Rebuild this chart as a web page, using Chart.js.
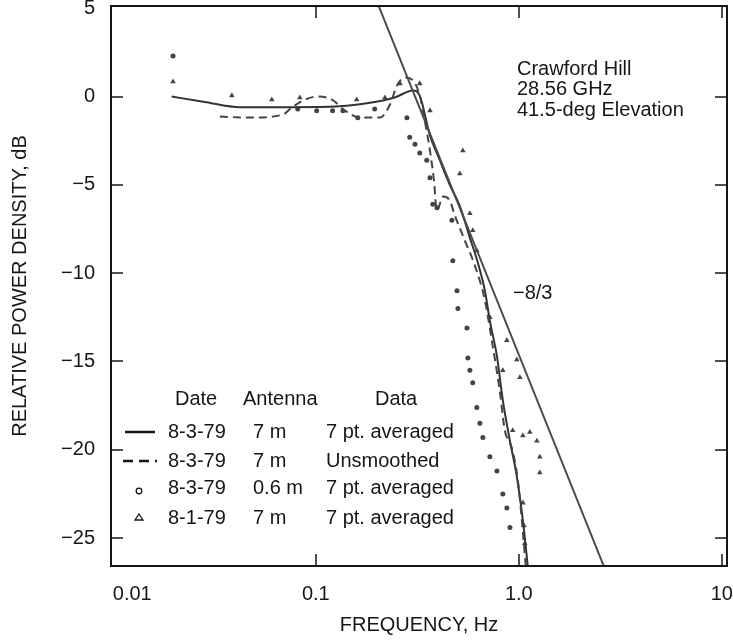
<!DOCTYPE html>
<html>
<head>
<meta charset="utf-8">
<script src="https://cdn.jsdelivr.net/npm/chart.js@4/dist/chart.umd.min.js"></script>
<style>
  html, body { margin: 0; padding: 0; background: #fff; }
  #wrap { width: 733px; height: 642px; }
</style>
</head>
<body>
<div id="wrap"><canvas id="spectrum"></canvas></div>
<script>
// values: frequency in Hz, level in dB

// 8-3-79, 7 m, 7 pt. averaged (solid)
const freqSolid = [0.0195, 0.0284, 0.0422, 0.0745, 0.131, 0.185, 0.245, 0.301, 0.325, 0.365, 0.408, 0.457,
  0.512, 0.574, 0.628, 0.681, 0.720, 0.780, 0.834, 0.904, 0.977, 1.047, 1.107];
const dbSolid = [0, -0.3, -0.6, -0.6, -0.55, -0.35, -0.05, 0.35, 0.05, -2.2, -3.6, -5.0,
  -6.2, -8.0, -9.4, -11.0, -12.7, -14.7, -17.2, -19.5, -21.5, -24.0, -26.6];

// 8-3-79, 7 m, unsmoothed (dashed)
const freqDashed = [0.0337, 0.0473, 0.0687, 0.0762, 0.0863, 0.101, 0.120, 0.139, 0.165, 0.207, 0.232, 0.251,
  0.274, 0.301, 0.325, 0.344, 0.365, 0.381, 0.395, 0.423, 0.457, 0.484, 0.542, 0.607, 0.681, 0.736,
  0.805, 0.853, 0.925, 0.989, 1.035, 1.082];
const dbDashed = [-1.13, -1.19, -1.02, -0.62, -0.23, 0, -0.17, -0.79, -1.19, -1.19, -0.45, 0.62,
  1.08, 0.91, 0.06, -1.36, -3.06, -4.64, -6.45, -5.66, -5.89, -6.73, -8.15, -9.56, -11.55, -13.81,
  -16.64, -18.9, -19.92, -21.73, -24.0, -26.6];

// 8-3-79, 0.6 m, 7 pt. averaged (circles)
const freqCircle = [0.0198, 0.0815, 0.101, 0.121, 0.136, 0.161, 0.195, 0.281, 0.290, 0.308, 0.325, 0.352,
  0.365, 0.377, 0.395, 0.468, 0.473, 0.496, 0.501, 0.555, 0.561, 0.574, 0.593, 0.621, 0.643, 0.665,
  0.720, 0.780, 0.834, 0.873, 0.904];
const dbCircle = [2.3, -0.7, -0.8, -0.8, -0.8, -1.2, -0.7, -1.2, -2.3, -2.7, -3.2, -3.6,
  -4.6, -6.1, -6.3, -7.0, -9.3, -11.0, -12.0, -13.1, -14.8, -15.5, -16.2, -17.6, -18.5, -19.3,
  -20.4, -21.2, -22.5, -23.3, -24.4];

// 8-1-79, 7 m, 7 pt. averaged (triangles)
const freqTri = [0.0198, 0.0386, 0.0607, 0.0834, 0.159, 0.219, 0.260, 0.325, 0.365, 0.512, 0.530, 0.574,
  0.593, 0.621, 0.720, 0.834, 0.873, 0.977, 1.012, 0.933, 1.047, 1.133, 1.227, 1.268, 1.268,
  1.047, 1.060, 1.070];
const dbTri = [0.85, 0.06, -0.17, -0.06, -0.17, -0.06, 0.74, 0.74, -0.79, -4.36, -3.06, -6.62,
  -7.58, -8.72, -12.5, -15.5, -13.8, -14.9, -15.9, -18.9, -19.2, -19.0, -19.5, -20.4, -21.3,
  -23.0, -24.3, -25.3];

// -8/3 reference line, ends at the frame
const freqSlope = [0.204, 2.62];
const dbSlope = [5.13, -26.58];

const xTickValues = [0.01, 0.1, 1, 10];
const xTickLabels = ['0.01', '0.1', '1.0', '10'];
const yTickValues = [5, 0, -5, -10, -15, -20, -25];
const yTickLabels = ['5', '0', '\u22125', '\u221210', '\u221215', '\u221220', '\u221225'];

const legendHeader = ['Date', 'Antenna', 'Data'];
const legendRows = [
  ['8-3-79', '7 m', '7 pt. averaged'],
  ['8-3-79', '7 m', 'Unsmoothed'],
  ['8-3-79', '0.6 m', '7 pt. averaged'],
  ['8-1-79', '7 m', '7 pt. averaged']
];
const siteLines = ['Crawford Hill', '28.56 GHz', '41.5-deg Elevation'];
const slopeLabel = '\u22128/3';

function pairs(xs, ys) {
  return xs.map((v, i) => ({x: v, y: ys[i]}));
}

const INK = '#161616';
const FONT = '"Liberation Sans", Arial, Helvetica, sans-serif';

// box frame with inward ticks, legend table and notes
const framePlugin = {
  id: 'frame',
  afterDraw(chart) {
    const {ctx, chartArea: a, scales: {x, y}} = chart;
    ctx.save();
    ctx.strokeStyle = INK;
    ctx.lineWidth = 2;
    ctx.strokeRect(a.left, a.top, a.right - a.left, a.bottom - a.top);

    ctx.lineWidth = 1.5;
    ctx.beginPath();
    xTickValues.forEach(v => {
      const px = Math.round(x.getPixelForValue(v));
      if (px < a.left + 4 || px > a.right - 4) return;
      ctx.moveTo(px, a.bottom); ctx.lineTo(px, a.bottom - 12);
      ctx.moveTo(px, a.top); ctx.lineTo(px, a.top + 12);
    });
    yTickValues.forEach(v => {
      const py = Math.round(y.getPixelForValue(v));
      if (py < a.top + 4 || py > a.bottom - 4) return;
      ctx.moveTo(a.left, py); ctx.lineTo(a.left + 12, py);
      ctx.moveTo(a.right, py); ctx.lineTo(a.right - 12, py);
    });
    ctx.stroke();

    ctx.fillStyle = INK;
    ctx.font = '20px ' + FONT;
    ctx.textBaseline = 'middle';
    ctx.textAlign = 'left';

    // site notes
    siteLines.forEach((t, i) => ctx.fillText(t, a.left + 406, 69 + i * 20.5));
    ctx.fillText(slopeLabel, a.left + 402, 293);

    // legend table
    const lx = a.left;
    ctx.fillText(legendHeader[0], lx + 64, 399);
    ctx.fillText(legendHeader[1], lx + 132, 399);
    ctx.fillText(legendHeader[2], lx + 264, 399);
    const rowY = [432, 461, 488, 518];
    legendRows.forEach((r, i) => {
      ctx.fillText(r[0], lx + 57, rowY[i]);
      ctx.fillText(r[1], lx + 142, rowY[i]);
      ctx.fillText(r[2], lx + 215, rowY[i]);
    });
    ctx.lineWidth = 2.5;
    ctx.beginPath();
    ctx.moveTo(lx + 14, rowY[0]); ctx.lineTo(lx + 44, rowY[0]);
    ctx.stroke();
    ctx.setLineDash([10, 6]);
    ctx.beginPath();
    ctx.moveTo(lx + 12, rowY[1]); ctx.lineTo(lx + 46, rowY[1]);
    ctx.stroke();
    ctx.setLineDash([]);
    ctx.lineWidth = 1.3;
    ctx.beginPath();
    ctx.arc(lx + 28, rowY[2] + 3, 2.8, 0, Math.PI * 2);
    ctx.stroke();
    ctx.beginPath();
    ctx.moveTo(lx + 28, rowY[3] - 4);
    ctx.lineTo(lx + 32, rowY[3] + 2);
    ctx.lineTo(lx + 24, rowY[3] + 2);
    ctx.closePath();
    ctx.stroke();
    ctx.restore();
  }
};

const ctx = document.getElementById('spectrum');
new Chart(ctx, {
  type: 'scatter',
  data: {
    datasets: [
      {
        label: '-8/3',
        data: pairs(freqSlope, dbSlope),
        showLine: true,
        borderColor: '#4a4a4a',
        borderWidth: 2,
        pointRadius: 0,
        clip: 0
      },
      {
        label: '8-3-79 7 m unsmoothed',
        data: pairs(freqDashed, dbDashed),
        showLine: true,
        borderColor: '#444',
        borderWidth: 2,
        borderDash: [8, 5],
        cubicInterpolationMode: 'monotone',
        pointRadius: 0,
        clip: 0
      },
      {
        label: '8-3-79 7 m averaged',
        data: pairs(freqSolid, dbSolid),
        showLine: true,
        borderColor: '#333',
        borderWidth: 2,
        cubicInterpolationMode: 'monotone',
        pointRadius: 0,
        clip: 0
      },
      {
        label: '8-3-79 0.6 m averaged',
        data: pairs(freqCircle, dbCircle),
        pointStyle: 'circle',
        pointRadius: 2.5,
        backgroundColor: '#444',
        borderWidth: 0
      },
      {
        label: '8-1-79 7 m averaged',
        data: pairs(freqTri, dbTri),
        pointStyle: 'triangle',
        pointRadius: 3.2,
        backgroundColor: '#444',
        borderWidth: 0
      }
    ]
  },
  options: {
    responsive: true,
    maintainAspectRatio: false,
    devicePixelRatio: 1,
    animation: false,
    events: [],
    layout: { padding: { left: 0, right: 6, top: 6, bottom: 0 } },
    font: { family: FONT, size: 20 },
    color: INK,
    plugins: {
      legend: { display: false },
      tooltip: { enabled: false }
    },
    scales: {
      x: {
        type: 'logarithmic',
        min: 0.0098,
        max: 10.6,
        grid: { display: false, drawTicks: false },
        border: { display: false },
        afterBuildTicks: s => { s.ticks = xTickValues.map(v => ({value: v})); },
        afterFit: s => { s.height = 76; s.paddingLeft = 0; s.paddingRight = 0; },
        ticks: {
          color: INK,
          padding: 16,
          maxRotation: 0,
          font: { family: FONT, size: 20 },
          callback: (v, i) => (i === 0 ? '       ' : '') + xTickLabels[i]
        },
        title: {
          display: true,
          text: 'FREQUENCY, Hz',
          color: INK,
          font: { family: FONT, size: 20 },
          padding: { top: 0, bottom: 5 }
        }
      },
      y: {
        min: -26.58,
        max: 5.13,
        grid: { display: false, drawTicks: false },
        border: { display: false },
        afterBuildTicks: s => { s.ticks = yTickValues.map(v => ({value: v})); },
        afterFit: s => { s.width = 111; s.paddingTop = 0; s.paddingBottom = 0; },
        ticks: {
          color: INK,
          padding: 16,
          font: { family: FONT, size: 20 },
          callback: (v, i) => yTickLabels[i]
        },
        title: {
          display: true,
          text: 'RELATIVE POWER DENSITY, dB',
          color: INK,
          font: { family: FONT, size: 20 },
          padding: { top: 8, bottom: 0 }
        }
      }
    }
  },
  plugins: [framePlugin]
});
</script>
</body>
</html>
